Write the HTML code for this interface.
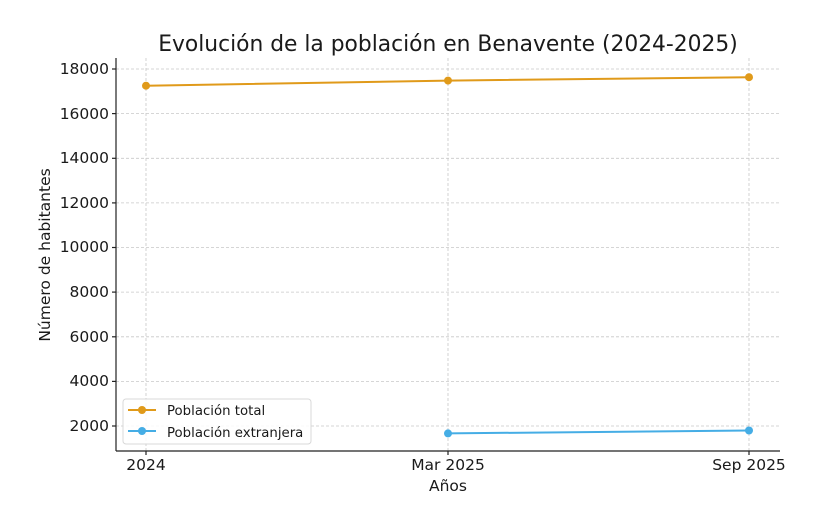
<!DOCTYPE html>
<html><head><meta charset="utf-8"><style>
body{margin:0;background:#fff}
text{font-family:"DejaVu Sans","Liberation Sans",sans-serif;fill:#1a1a1a}
</style></head><body>
<svg width="817" height="506" viewBox="0 0 817 506" xmlns="http://www.w3.org/2000/svg">
<rect width="817" height="506" fill="#fff"/>
<text x="448" y="51" font-size="21.8" text-anchor="middle">Evolución de la población en Benavente (2024-2025)</text>
<g stroke="#c8c8c8" stroke-width="0.8" stroke-dasharray="3,2">
<line x1="146" y1="58" x2="146" y2="451"/><line x1="448" y1="58" x2="448" y2="451"/><line x1="749" y1="58" x2="749" y2="451"/>
<line x1="116" y1="69" x2="780" y2="69"/><line x1="116" y1="113.6" x2="780" y2="113.6"/><line x1="116" y1="158.3" x2="780" y2="158.3"/><line x1="116" y1="202.9" x2="780" y2="202.9"/><line x1="116" y1="247.5" x2="780" y2="247.5"/><line x1="116" y1="292.1" x2="780" y2="292.1"/><line x1="116" y1="336.8" x2="780" y2="336.8"/><line x1="116" y1="381.4" x2="780" y2="381.4"/><line x1="116" y1="426" x2="780" y2="426"/>
</g>
<g stroke="#222" stroke-width="1.2">
<line x1="116" y1="58" x2="116" y2="451"/><line x1="116" y1="451" x2="780" y2="451"/>
<line x1="112" y1="69" x2="116" y2="69"/><line x1="112" y1="113.6" x2="116" y2="113.6"/><line x1="112" y1="158.3" x2="116" y2="158.3"/><line x1="112" y1="202.9" x2="116" y2="202.9"/><line x1="112" y1="247.5" x2="116" y2="247.5"/><line x1="112" y1="292.1" x2="116" y2="292.1"/><line x1="112" y1="336.8" x2="116" y2="336.8"/><line x1="112" y1="381.4" x2="116" y2="381.4"/><line x1="112" y1="426" x2="116" y2="426"/>
<line x1="146" y1="451" x2="146" y2="455"/><line x1="448" y1="451" x2="448" y2="455"/><line x1="749" y1="451" x2="749" y2="455"/>
</g>
<g font-size="15.5" text-anchor="end">
<text x="109" y="74">18000</text><text x="109" y="119">16000</text><text x="109" y="163">14000</text><text x="109" y="208">12000</text><text x="109" y="252">10000</text><text x="109" y="297">8000</text><text x="109" y="342">6000</text><text x="109" y="386">4000</text><text x="109" y="431">2000</text>
</g>
<g font-size="15.5" text-anchor="middle">
<text x="146" y="470">2024</text><text x="448" y="470">Mar 2025</text><text x="749" y="470">Sep 2025</text>
<text x="448" y="491">Años</text>
<text transform="translate(50,255) rotate(-90)">Número de habitantes</text>
</g>
<polyline points="146,85.7 448,80.6 749,77.2" fill="none" stroke="#e09a1a" stroke-width="2"/>
<g fill="#e09a1a"><circle cx="146" cy="85.7" r="4"/><circle cx="448" cy="80.6" r="4"/><circle cx="749" cy="77.2" r="4"/></g>
<polyline points="448,433.4 749,430.5" fill="none" stroke="#45ade5" stroke-width="2"/>
<g fill="#45ade5"><circle cx="448" cy="433.4" r="4"/><circle cx="749" cy="430.5" r="4"/></g>
<rect x="123" y="399" width="188" height="45" rx="3" fill="#fff" fill-opacity="0.85" stroke="#d8d8d8"/>
<line x1="128" y1="410" x2="156" y2="410" stroke="#e09a1a" stroke-width="2"/><circle cx="142" cy="410" r="4" fill="#e09a1a"/>
<line x1="128" y1="431" x2="156" y2="431" stroke="#45ade5" stroke-width="2"/><circle cx="142" cy="431" r="4" fill="#45ade5"/>
<text x="167" y="415" font-size="13.3">Población total</text>
<text x="167" y="437" font-size="13.3">Población extranjera</text>
</svg>
</body></html>
